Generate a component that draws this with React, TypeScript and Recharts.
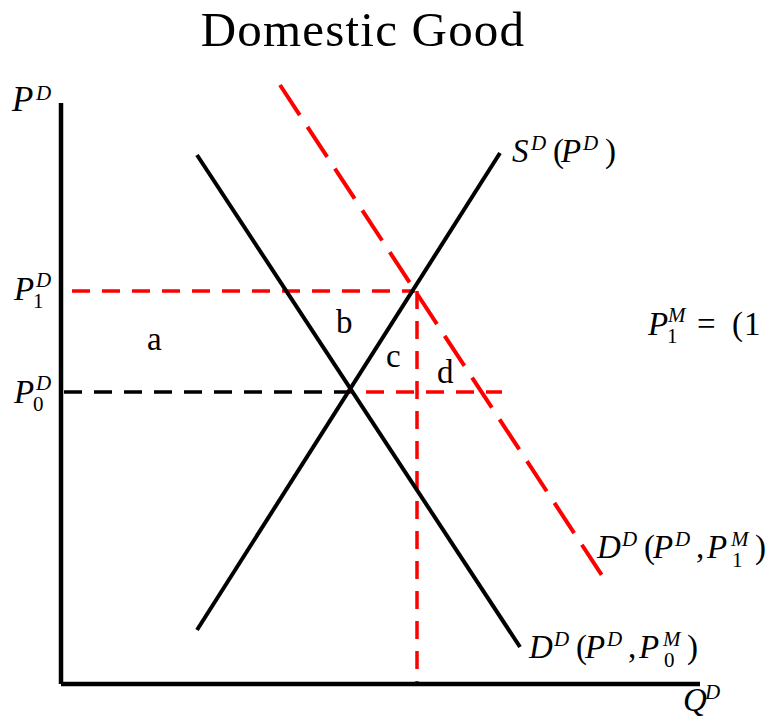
import React from "react";
import { LineChart, Line, XAxis, YAxis } from "recharts";

// quantity (Q) and price (P) in diagram units
const yAxisPts = [
  { q: 0, p: 116.2 },
  { q: 0, p: 0 },
];
const xAxisPts = [
  { q: 0, p: 0 },
  { q: 127.8, p: 0 },
];
const supply = [
  { q: 27.2, p: 10.8 },
  { q: 87.8, p: 106.2 },
];
const demand0 = [
  { q: 27.2, p: 105.8 },
  { q: 91.8, p: 7.4 },
];
const demand1 = [
  { q: 43.8, p: 119.8 },
  { q: 108.8, p: 20.8 },
];
const p1Guide = [
  { q: 2.2, p: 78.6 },
  { q: 70.8, p: 78.6 },
];
const p0GuideBlack = [
  { q: 0.6, p: 58.4 },
  { q: 57.8, p: 58.4 },
];
const p0GuideRed = [
  { q: 57.8, p: 58.4 },
  { q: 88.2, p: 58.4 },
];
const q1Guide = [
  { q: 71.2, p: 78.6 },
  { q: 71.2, p: 0 },
];

const RED = "#ff0000";
const SERIF = "'Liberation Serif', serif";

type Piece = { t: string; x: number; dy?: number; size?: number; italic?: boolean };

// one <text> per label, each piece placed with its own tspan
function MathLabel({ x, y, pieces }: { x: number; y: number; pieces: Piece[] }) {
  return (
    <text fontFamily={SERIF} fill="#000" fontSize={33}>
      {pieces.map((p, i) => (
        <tspan
          key={i}
          x={x + p.x}
          y={y + (p.dy ?? 0)}
          fontSize={p.size ?? 33}
          fontStyle={p.italic === false ? "normal" : "italic"}
        >
          {p.t}
        </tspan>
      ))}
    </text>
  );
}

const demandPieces = (sub: string): Piece[] => [
  { t: "D", x: 0 },
  { t: "D", x: 25, dy: -12, size: 21 },
  { t: "(", x: 47, italic: false },
  { t: "P", x: 56 },
  { t: "D", x: 78, dy: -12, size: 21 },
  { t: ",", x: 99, italic: false },
  { t: "P", x: 110 },
  { t: "M", x: 134, dy: -12, size: 21 },
  { t: sub, x: 135, dy: 9, size: 21, italic: false },
  { t: ")", x: 158, italic: false },
];

export default function App() {
  return (
    <div style={{ position: "absolute", left: 0, top: 0, width: 767, height: 717, background: "#fff" }}>
      <LineChart
        width={767}
        height={717}
        margin={{ top: 84, right: 66, bottom: 33, left: 61 }}
      >
        <XAxis type="number" dataKey="q" domain={[0, 128]} hide />
        <YAxis type="number" dataKey="p" domain={[0, 120]} hide />
        <Line data={p1Guide} dataKey="p" stroke={RED} strokeWidth={3.5} strokeDasharray="18 12" dot={false} isAnimationActive={false} />
        <Line data={p0GuideBlack} dataKey="p" stroke="#000" strokeWidth={3.5} strokeDasharray="18 12" dot={false} isAnimationActive={false} />
        <Line data={p0GuideRed} dataKey="p" stroke={RED} strokeWidth={3.5} strokeDasharray="4 12 18 12 18 12 18 12 18 12 18 12" dot={false} isAnimationActive={false} />
        <Line data={q1Guide} dataKey="p" stroke={RED} strokeWidth={3.5} strokeDasharray="18 12" dot={false} isAnimationActive={false} />
        <Line data={supply} dataKey="p" stroke="#000" strokeWidth={4} dot={false} isAnimationActive={false} />
        <Line data={demand0} dataKey="p" stroke="#000" strokeWidth={4} dot={false} isAnimationActive={false} />
        <Line data={demand1} dataKey="p" stroke={RED} strokeWidth={4} strokeDasharray="36 14" dot={false} isAnimationActive={false} />
        <Line data={yAxisPts} dataKey="p" stroke="#000" strokeWidth={4.5} dot={false} isAnimationActive={false} />
        <Line data={xAxisPts} dataKey="p" stroke="#000" strokeWidth={4.5} dot={false} isAnimationActive={false} />
      </LineChart>
      <svg width={767} height={717} style={{ position: "absolute", left: 0, top: 0, pointerEvents: "none" }}>
        <text x={363} y={46} textAnchor="middle" fontSize={49} fontFamily={SERIF} letterSpacing={1.2} fill="#000">
          Domestic Good
        </text>
        <MathLabel x={12} y={111} pieces={[{ t: "P", x: 0, size: 35 }, { t: "D", x: 24, dy: -11, size: 21 }]} />
        <MathLabel
          x={14}
          y={300}
          pieces={[
            { t: "P", x: 0 },
            { t: "D", x: 22, dy: -13, size: 21 },
            { t: "1", x: 19, dy: 8, size: 21, italic: false },
          ]}
        />
        <MathLabel
          x={14}
          y={403}
          pieces={[
            { t: "P", x: 0 },
            { t: "D", x: 22, dy: -13, size: 21 },
            { t: "0", x: 19, dy: 8, size: 21, italic: false },
          ]}
        />
        <MathLabel x={147} y={350} pieces={[{ t: "a", x: 0, size: 33, italic: false }]} />
        <MathLabel x={336} y={333} pieces={[{ t: "b", x: 0, size: 33, italic: false }]} />
        <MathLabel x={386} y={367} pieces={[{ t: "c", x: 0, size: 33, italic: false }]} />
        <MathLabel x={437} y={383} pieces={[{ t: "d", x: 0, size: 33, italic: false }]} />
        <MathLabel
          x={512}
          y={162}
          pieces={[
            { t: "S", x: 0 },
            { t: "D", x: 19, dy: -12, size: 21 },
            { t: "(", x: 41, italic: false },
            { t: "P", x: 49 },
            { t: "D", x: 71, dy: -12, size: 21 },
            { t: ")", x: 93, italic: false },
          ]}
        />
        <MathLabel
          x={648}
          y={335}
          pieces={[
            { t: "P", x: 0 },
            { t: "M", x: 20, dy: -13, size: 21 },
            { t: "1", x: 19, dy: 8, size: 21, italic: false },
            { t: "=", x: 49, italic: false },
            { t: "(", x: 84, italic: false },
            { t: "1", x: 96, italic: false },
          ]}
        />
        <MathLabel x={597} y={558} pieces={demandPieces("1")} />
        <MathLabel x={529} y={658} pieces={demandPieces("0")} />
        <MathLabel x={683} y={711} pieces={[{ t: "Q", x: 0 }, { t: "D", x: 22, dy: -12, size: 21 }]} />
      </svg>
    </div>
  );
}
